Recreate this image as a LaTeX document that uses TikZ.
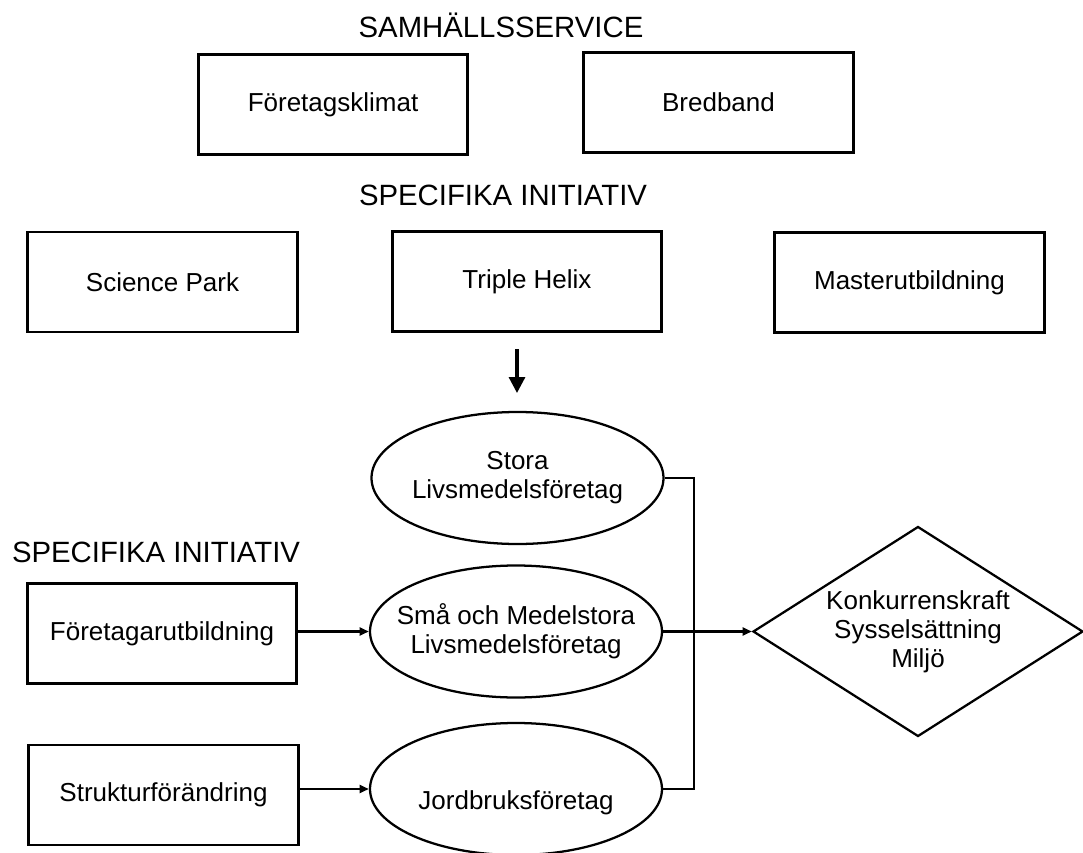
\documentclass[tikz,border=0pt]{standalone}
\usepackage{fontspec}
\setmainfont{Liberation Sans}
\usetikzlibrary{shapes.geometric,arrows.meta}

\begin{document}
\begin{tikzpicture}[x=0.75pt, y=-0.75pt,
  every node/.style = {align=center, font=\fontsize{19.5}{21.75}\selectfont},
  box/.style = {draw, line width=2.1pt, minimum width=202pt, minimum height=75pt},
  blob/.style = {draw, ellipse, line width=1.7pt, minimum width=219pt, minimum height=99pt,
    inner xsep=-15pt, inner ysep=0pt},
  heading/.style = {anchor=base, font=\fontsize{22}{26}\selectfont},
  arr/.style = {line width=1.8pt, -{Triangle[length=7pt, width=6pt]}}]
    \tikzstyle{bigarr}=[line width=2.4pt, -{Triangle[length=12pt, width=12pt]}]
  \useasboundingbox (0,0) rectangle (1083,853);
  \node[heading] (samh) at (501,37) {SAMHÄLLSSERVICE};
  \node[box] (klimat) at (333,104.5) {Företagsklimat};
  \node[box] (bredband) at (718.5,102.5) {Bredband};
  \node[heading] (spec1) at (503,205) {SPECIFIKA INITIATIV};
  \node[box] (science) at (162.5,282) {Science Park};
  \node[box] (helix) at (527,281.5) {Triple Helix};
  \node[box] (master) at (909.5,282.5) {Masterutbildning};
  \coordinate (arrtop) at (517,349);
  \coordinate (arrbot) at (517,393);
  \node[blob] (stora) at (517.5,478) {Stora\\Livsmedelsföretag};
  \node[heading] (spec2) at (156,562) {SPECIFIKA INITIATIV};
  \node[box] (foretagar) at (162,633.5) {Företagarutbildning};
  \node[blob] (sma) at (516,631.5) {Små och Medelstora\\Livsmedelsföretag};
  \node[box] (struktur) at (163.5,795) {Strukturförändring};
  \node[blob, text height=35pt] (jord) at (516,789) {Jordbruksföretag};
  \node[draw, diamond, aspect=1.57, inner sep=0pt, line width=1.7pt,
    minimum width=247.5pt, minimum height=157.5pt] (goal) at (918,631.5)
    {Konkurrenskraft\\Sysselsättning\\Miljö};
  \coordinate (bus) at (694,480);
  \draw[bigarr] (arrtop) -- (arrbot);
  \draw[arr] (foretagar.east |- sma.west) -- (sma.west);
  \draw[arr] (struktur.east |- jord.west) -- (jord.west);
  \draw[line width=1.8pt] (stora.east) -- (stora.east -| bus) -- (jord.east -| bus) -- (jord.east);
  \draw[arr] (sma.east) -- (goal.west);
\end{tikzpicture}
\end{document}
